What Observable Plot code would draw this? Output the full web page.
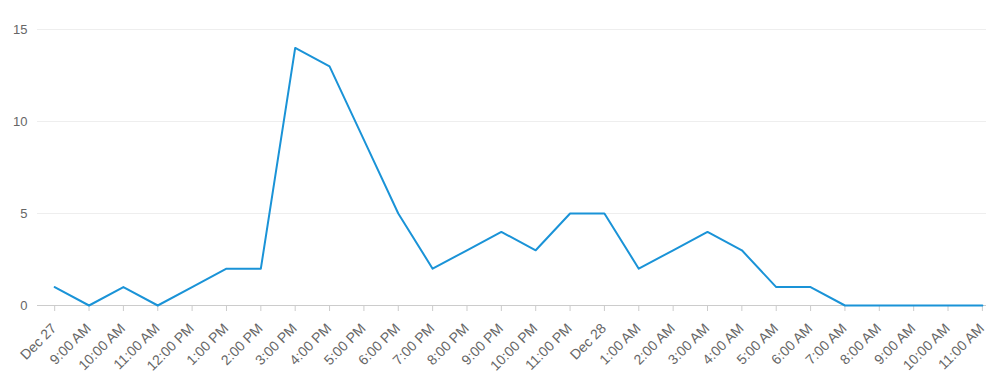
<!DOCTYPE html>
<html>
<head>
<meta charset="utf-8">
<script src="https://cdn.jsdelivr.net/npm/d3@7"></script>
<script src="https://cdn.jsdelivr.net/npm/@observablehq/plot@0.6"></script>
<style>
  html, body { margin: 0; padding: 0; background: #fff; }
  #chart { width: 986px; height: 375px; }
</style>
</head>
<body>
<div id="chart"></div>
<script>
const labels = ["Dec 27", "9:00 AM", "10:00 AM", "11:00 AM", "12:00 PM", "1:00 PM", "2:00 PM", "3:00 PM", "4:00 PM", "5:00 PM", "6:00 PM", "7:00 PM", "8:00 PM", "9:00 PM", "10:00 PM", "11:00 PM", "Dec 28", "1:00 AM", "2:00 AM", "3:00 AM", "4:00 AM", "5:00 AM", "6:00 AM", "7:00 AM", "8:00 AM", "9:00 AM", "10:00 AM", "11:00 AM"];
const values = [1, 0, 1, 0, 1, 2, 2, 14, 13, 9, 5, 2, 3, 4, 3, 5, 5, 2, 3, 4, 3, 1, 1, 0, 0, 0, 0, 0];
const yTicks = [0, 5, 10, 15];

const data = labels.map((label, i) => ({i, label, value: values[i]}));

const chart = Plot.plot({
  width: 986,
  height: 375,
  marginLeft: 37,
  marginRight: 0,
  marginTop: 29,
  marginBottom: 70,
  style: {fontFamily: "'Liberation Sans', Arial, sans-serif", fontSize: "13px", color: "#666", background: "#fff"},
  x: {domain: [-0.5, 27.12]},
  y: {domain: [0, 15]},
  marks: [
    Plot.gridY(yTicks, {stroke: "#eee", strokeOpacity: 1}),
    Plot.ruleY([0], {stroke: "#ccc"}),
    Plot.axisY(yTicks, {tickSize: 0, tickPadding: 10, fill: "#666", fontSize: 13, label: null}),
    Plot.axisX(data.map(d => d.i), {tickSize: 6, stroke: "#ccc", fill: "none", label: null}),
    Plot.text(data, {x: "i", text: "label", frameAnchor: "bottom", dx: -0.5, dy: 20.5, rotate: -45, textAnchor: "end", lineAnchor: "middle", fill: "#666", fontSize: 14}),
    Plot.line(data, {x: "i", y: "value", stroke: "#1a93d7", strokeWidth: 2, curve: "linear"})
  ]
});
document.getElementById("chart").appendChild(chart);
</script>
</body>
</html>
